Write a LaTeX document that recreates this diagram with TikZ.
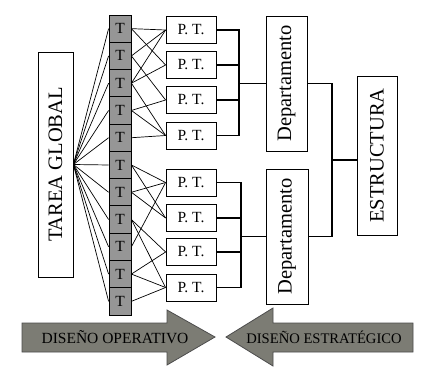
\documentclass[tikz,border=0pt]{standalone}
\usepackage{fontspec}
\usepackage{graphicx}
\setmainfont{Liberation Serif}
\definecolor{tgray}{RGB}{150,150,150}
\definecolor{agray}{RGB}{124,124,116}
\begin{document}
\begin{tikzpicture}[x=1bp,y=-1bp,
  box/.style={draw,line width=0.8bp,fill=white,inner sep=0pt},
  tcell/.style={draw,line width=0.8bp,fill=tgray,minimum width=22bp,minimum height=27.27bp,inner sep=0pt,font=\fontsize{15.5bp}{18bp}\selectfont},
  ptbox/.style={box,minimum width=50bp,minimum height=27bp,font=\fontsize{15.5bp}{18bp}\selectfont},
  bigtext/.style={font=\fontsize{20.5bp}{24bp}\selectfont},
  link/.style={line width=0.7bp},
  bracket/.style={line width=1.6bp},
  bigarrow/.style={draw=black!70,line width=0.8bp,fill=agray},
  arrowtext/.style={inner sep=0pt,font=\fontsize{15.5bp}{18bp}\selectfont}
]
\useasboundingbox (0,0) rectangle (439,368);
\fill[white] (0,0) rectangle (439,368);

% Tarea global
\node[box,bigtext,minimum width=35bp,minimum height=225bp] (tg) at (55.5,164.5) {\rotatebox{90}{TAREA GLOBAL}};

% T column
\foreach \i in {1,...,11} {
  \node[tcell] (t\i) at (120,{15+27.27*(\i-0.5)}) {T};
}

% P.T. boxes
\node[ptbox] (pt1) at (191,30) {P. T.};
\node[ptbox] (pt2) at (191,65) {P. T.};
\node[ptbox] (pt3) at (191,100) {P. T.};
\node[ptbox] (pt4) at (191,135.5) {P. T.};
\node[ptbox] (pt5) at (191,182.5) {P. T.};
\node[ptbox] (pt6) at (191,218) {P. T.};
\node[ptbox] (pt7) at (191,252) {P. T.};
\node[ptbox] (pt8) at (191,287.5) {P. T.};

% Departamentos and Estructura
\node[box,bigtext,minimum width=41bp,minimum height=135bp] (dep1) at (286.5,83.5) {\rotatebox{90}{Departamento}};
\node[box,bigtext,minimum width=42bp,minimum height=135bp] (dep2) at (287,236.5) {\rotatebox{90}{Departamento}};
\node[box,bigtext,minimum width=40bp,minimum height=159bp] (est) at (377,155.5) {\rotatebox{90}{ESTRUCTURA}};

% fan from Tarea global to T cells
\foreach \i in {1,...,11} {
  \draw[link] (tg.east) -- (t\i.west);
}

% T to P.T. links
\foreach \a/\b in {1/1,1/2,2/1,2/3,3/1,3/2,3/4,4/3,4/4,5/4,
                   6/5,6/6,7/5,7/6,9/5,8/7,8/8,10/7,10/8,11/8} {
  \draw[link] (t\a.east) -- (pt\b.west);
}

% brackets P.T. -> Departamento
\coordinate (jU) at (239,83.5);
\coordinate (jL) at (241,236.5);
\foreach \b in {1,...,4} { \draw[bracket] (pt\b.east) -| (jU); }
\foreach \b in {5,...,8} { \draw[bracket] (pt\b.east) -| (jL); }
\draw[bracket] (pt1.east -| jU) -- (pt4.east -| jU);
\draw[bracket] (pt5.east -| jL) -- (pt8.east -| jL);
\draw[bracket] (jU) -- (dep1.west);
\draw[bracket] (jL) -- (dep2.west);

% Departamento -> Estructura
\coordinate (jS) at (332,160);
\draw[bracket] (dep1.east) -| (jS);
\draw[bracket] (dep2.east) -| (jS);
\draw[bracket] (jS) -- (est.west |- jS);

% big arrows
\draw[bigarrow] (22,323) -- (167,323) -- (167,310) -- (215,337) -- (167,365) -- (167,352) -- (22,352) -- cycle;
\node[arrowtext] (dop) at (115,337.5) {DISEÑO OPERATIVO};
\draw[bigarrow] (413,323) -- (273,323) -- (273,308) -- (226,337) -- (273,366) -- (273,352) -- (413,352) -- cycle;
\node[arrowtext,font=\fontsize{14.6bp}{18bp}\selectfont] (des) at (324,337.5) {DISEÑO ESTRATÉGICO};
\end{tikzpicture}
\end{document}
